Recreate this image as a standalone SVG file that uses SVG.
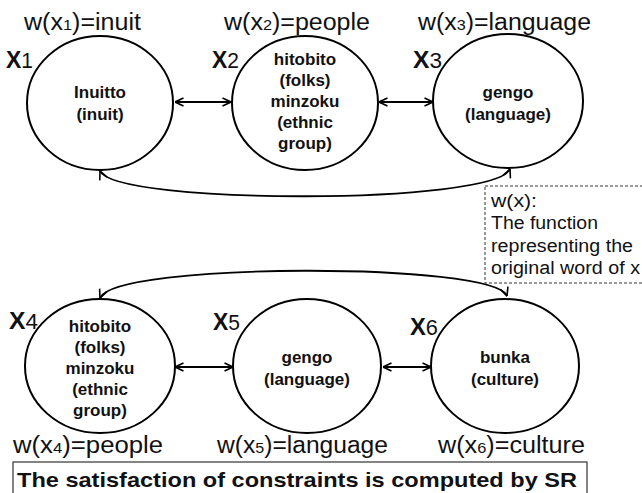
<svg xmlns="http://www.w3.org/2000/svg" width="642" height="493" viewBox="0 0 642 493">
<defs>
<marker id="ah" viewBox="0 0 10 10" refX="9.5" refY="5" markerWidth="10" markerHeight="10" markerUnits="userSpaceOnUse" orient="auto-start-reverse">
<path d="M1,1 L9.5,5 L1,9" fill="none" stroke="#000" stroke-width="1.6"/>
</marker>
<style>
.node{fill:#fff;stroke:#000;stroke-width:2}
.nt{font-family:"Liberation Sans",Arial,sans-serif;font-weight:bold;font-size:17px;text-anchor:middle;fill:#111}
.lab{font-family:"Liberation Sans",Arial,sans-serif;font-size:23px;fill:#111}
.sub{font-size:15px}
.xl{font-family:"Liberation Sans",Arial,sans-serif;font-size:22px;fill:#111}
.xb{font-weight:bold;font-size:24px}
.conn{fill:none;stroke:#000;stroke-width:1.8}
.note{font-family:"Liberation Sans",Arial,sans-serif;font-size:18px;fill:#111}
</style>
</defs>
<rect width="642" height="493" fill="#fff"/>

<g id="connectors">
<line class="conn" x1="175" y1="102" x2="231" y2="102" marker-start="url(#ah)" marker-end="url(#ah)"/>
<line class="conn" x1="379" y1="102" x2="433" y2="102" marker-start="url(#ah)" marker-end="url(#ah)"/>
<line class="conn" x1="175" y1="367" x2="233" y2="367" marker-start="url(#ah)" marker-end="url(#ah)"/>
<line class="conn" x1="383" y1="367" x2="431" y2="367" marker-start="url(#ah)" marker-end="url(#ah)"/>
<path class="conn" d="M100,171 C115,205 495,205 510,169" marker-start="url(#ah)" marker-end="url(#ah)"/>
<path class="conn" d="M100,298 C115,262 495,262 507,296" marker-start="url(#ah)" marker-end="url(#ah)"/>
</g>

<g id="x1">
<ellipse class="node" cx="100" cy="103" rx="73" ry="67"/>
<text class="nt" x="100" y="98">Inuitto</text>
<text class="nt" x="100" y="120">(inuit)</text>
<text class="xl" x="6" y="68" textLength="27" lengthAdjust="spacingAndGlyphs"><tspan class="xb">X</tspan>1</text>
<text class="lab" x="24" y="30" textLength="117" lengthAdjust="spacingAndGlyphs">w(x<tspan class="sub">1</tspan>)=inuit</text>
</g>

<g id="x2">
<ellipse class="node" cx="305" cy="103" rx="73" ry="67"/>
<text class="nt" x="305" y="65">hitobito</text>
<text class="nt" x="305" y="86">(folks)</text>
<text class="nt" x="305" y="107">minzoku</text>
<text class="nt" x="305" y="128">(ethnic</text>
<text class="nt" x="305" y="149">group)</text>
<text class="xl" x="212" y="68" textLength="27" lengthAdjust="spacingAndGlyphs"><tspan class="xb">X</tspan>2</text>
<text class="lab" x="224" y="30" textLength="146" lengthAdjust="spacingAndGlyphs">w(x<tspan class="sub">2</tspan>)=people</text>
</g>

<g id="x3">
<ellipse class="node" cx="508" cy="101" rx="75" ry="67"/>
<text class="nt" x="508" y="98">gengo</text>
<text class="nt" x="508" y="120">(language)</text>
<text class="xl" x="413" y="68" textLength="29" lengthAdjust="spacingAndGlyphs"><tspan class="xb">X</tspan>3</text>
<text class="lab" x="418" y="30" textLength="173" lengthAdjust="spacingAndGlyphs">w(x<tspan class="sub">3</tspan>)=language</text>
</g>

<g id="x4">
<ellipse class="node" cx="100" cy="366" rx="75" ry="67"/>
<text class="nt" x="100" y="332">hitobito</text>
<text class="nt" x="100" y="353">(folks)</text>
<text class="nt" x="100" y="374">minzoku</text>
<text class="nt" x="100" y="395">(ethnic</text>
<text class="nt" x="100" y="416">group)</text>
<text class="xl" x="9" y="329" textLength="29" lengthAdjust="spacingAndGlyphs"><tspan class="xb">X</tspan>4</text>
<text class="lab" x="13" y="453" textLength="150" lengthAdjust="spacingAndGlyphs">w(x<tspan class="sub">4</tspan>)=people</text>
</g>

<g id="x5">
<ellipse class="node" cx="307" cy="366" rx="74" ry="67"/>
<text class="nt" x="307" y="363">gengo</text>
<text class="nt" x="307" y="385">(language)</text>
<text class="xl" x="213" y="330" textLength="27" lengthAdjust="spacingAndGlyphs"><tspan class="xb">X</tspan>5</text>
<text class="lab" x="217" y="453" textLength="171" lengthAdjust="spacingAndGlyphs">w(x<tspan class="sub">5</tspan>)=language</text>
</g>

<g id="x6">
<ellipse class="node" cx="505" cy="366" rx="74" ry="67"/>
<text class="nt" x="505" y="363">bunka</text>
<text class="nt" x="505" y="385">(culture)</text>
<text class="xl" x="410" y="335" textLength="28" lengthAdjust="spacingAndGlyphs"><tspan class="xb">X</tspan>6</text>
<text class="lab" x="438" y="453" textLength="147" lengthAdjust="spacingAndGlyphs">w(x<tspan class="sub">6</tspan>)=culture</text>
</g>

<g id="legend">
<rect x="485" y="186" width="165" height="97" fill="#fff" stroke="#333" stroke-width="1" stroke-dasharray="3,2"/>
<text class="note" x="491" y="207" textLength="46" lengthAdjust="spacingAndGlyphs">w(x):</text>
<text class="note" x="491" y="229" textLength="107" lengthAdjust="spacingAndGlyphs">The function</text>
<text class="note" x="491" y="252" textLength="142" lengthAdjust="spacingAndGlyphs">representing the</text>
<text class="note" x="491" y="274" textLength="149" lengthAdjust="spacingAndGlyphs">original word of x</text>
</g>

<g id="caption">
<rect x="13" y="462" width="574" height="35" fill="#fff" stroke="#333" stroke-width="1.2"/>
<text x="17" y="487" font-family="Liberation Sans, Arial, sans-serif" font-weight="bold" font-size="21" fill="#111" textLength="560" lengthAdjust="spacingAndGlyphs">The satisfaction of constraints is computed by SR</text>
</g>
</svg>
